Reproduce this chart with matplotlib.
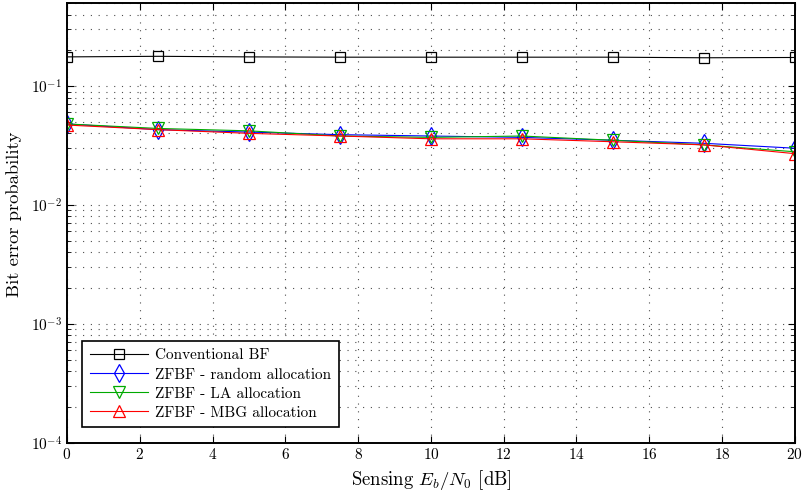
import matplotlib
matplotlib.use("Agg")
import matplotlib.pyplot as plt
import numpy as np

plt.rcParams['font.family'] = 'serif'
plt.rcParams['font.serif'] = ['cmr10', 'DejaVu Serif']
plt.rcParams['mathtext.fontset'] = 'cm'
plt.rcParams['axes.formatter.use_mathtext'] = True

# sensing SNR points (dB)
snr = [0, 2.5, 5, 7.5, 10, 12.5, 15, 17.5, 20]

# bit error probability for each scheme
ber_conv = [0.176, 0.178, 0.176, 0.175, 0.175, 0.175, 0.175, 0.173, 0.174]
ber_random = [0.048, 0.043, 0.041, 0.039, 0.038, 0.037, 0.035, 0.033, 0.030]
ber_la = [0.048, 0.044, 0.042, 0.038, 0.037, 0.038, 0.035, 0.032, 0.028]
ber_mbg = [0.047, 0.043, 0.040, 0.038, 0.036, 0.036, 0.034, 0.032, 0.027]

fig = plt.figure(figsize=(8.02, 4.99), dpi=100)
ax = fig.add_axes([0.0835, 0.113, 0.9075, 0.881])

ax.semilogy(snr, ber_conv, 'k-', marker='s', mfc='none', ms=7.5, lw=0.8,
            mew=0.9, label='Conventional BF')
ax.semilogy(snr, ber_random, 'b-', marker='d', mfc='none', ms=9, lw=0.8,
            mew=0.9, label='ZFBF - random allocation')
ax.semilogy(snr, ber_la, '-', color='#00aa00', marker='v', mfc='none', ms=8.5,
            lw=0.8, mew=0.9, label='ZFBF - LA allocation')
ax.semilogy(snr, ber_mbg, 'r-', marker='^', mfc='none', ms=8.5, lw=0.8,
            mew=0.9, label='ZFBF - MBG allocation')

ax.set_xlim(0, 20)
ax.set_ylim(1e-4, 0.5)
ax.set_xticks(np.arange(0, 21, 2))
dots = (0, (1, 6))
ax.grid(True, which='major', linestyle=dots, color='0.3', lw=0.8)
ax.grid(True, which='minor', axis='y', linestyle=dots, color='0.3', lw=0.8)
ax.tick_params(which='both', direction='in', top=True, right=True,
               labelsize=11)
ax.tick_params(which='major', length=5)
ax.tick_params(which='minor', length=3)
for s in ax.spines.values():
    s.set_linewidth(1.4)

ax.set_xlabel('Sensing $E_b/N_0$ [dB]', fontsize=13.5)
ax.set_ylabel('Bit error probability', fontsize=13.4)
ax.yaxis.set_label_coords(-0.062, 0.52)

leg = ax.legend(loc='lower left', fontsize=11, fancybox=False,
                edgecolor='black', framealpha=1, borderaxespad=1.0,
                handlelength=3.8, handletextpad=0.45, labelspacing=0.35,
                borderpad=0.5)
leg.get_frame().set_linewidth(1.2)

fig.savefig('out.png', dpi=100)
